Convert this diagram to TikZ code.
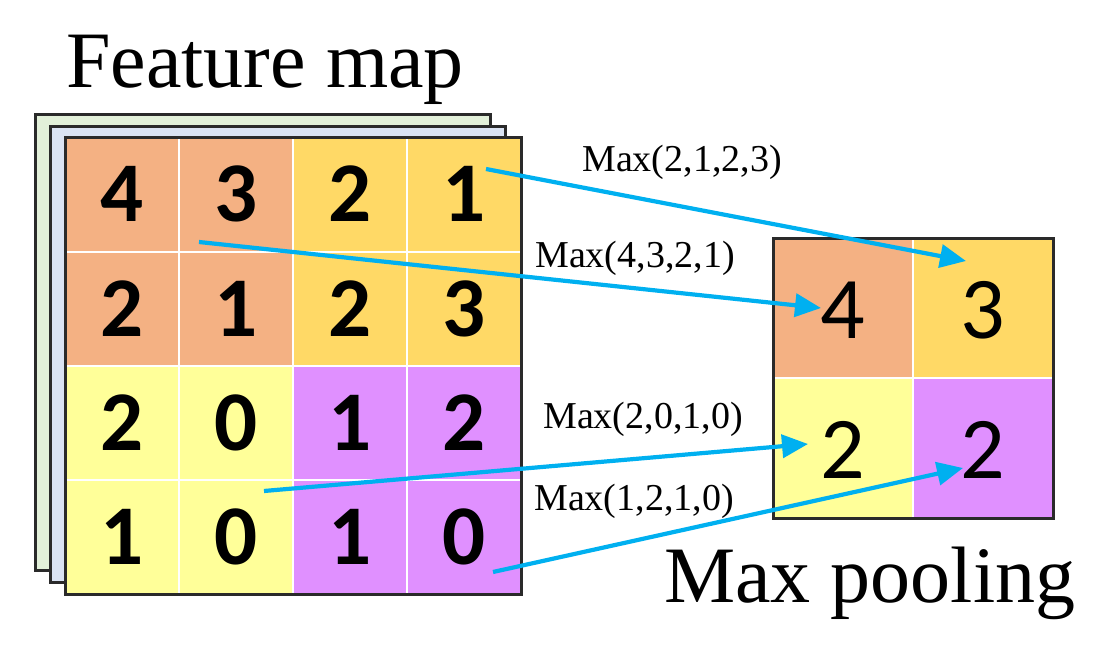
\documentclass[tikz,border=0pt]{standalone}
\usepackage{fontspec}
\setmainfont{Liberation Serif}
\newfontfamily\digitfont{Carlito}
\usetikzlibrary{arrows.meta}
\definecolor{corange}{HTML}{F4B183}
\definecolor{cgold}{HTML}{FFD966}
\definecolor{cyellow}{HTML}{FFFF99}
\definecolor{cpurple}{HTML}{E090FF}
\definecolor{cgreen}{HTML}{E2F0D9}
\definecolor{cblue}{HTML}{DAE3F3}
\definecolor{ccyan}{HTML}{00B0F0}
\definecolor{cborder}{HTML}{2A2A2A}
\tikzset{
  sheet/.style={draw=cborder, line width=3pt},
  cell/.style={rectangle, inner sep=0pt, outer sep=0pt, minimum size=114pt, draw=none},
  pcell/.style={rectangle, inner sep=0pt, outer sep=0pt, minimum size=140pt, draw=none},
  fmnum/.style={anchor=base, inner sep=0pt, font=\digitfont\bfseries\fontsize{85}{85}\selectfont},
  pnum/.style={anchor=base, inner sep=0pt, font=\digitfont\fontsize{88}{88}\selectfont},
  maxlabel/.style={anchor=base, inner sep=0pt, font=\fontsize{38}{38}\selectfont},
  title/.style={anchor=base west, inner sep=0pt, font=\fontsize{80}{80}\selectfont},
  conn/.style={draw=ccyan, line width=4.2pt, -{Triangle[length=26pt,width=23pt]}},
  gridline/.style={draw=white, line width=1.2pt}
}
\begin{document}
\begin{tikzpicture}[x=1pt,y=-1pt]
\useasboundingbox (0,0) rectangle (1112,650);
% back sheets
\filldraw[sheet, fill=cgreen] (35,115) rectangle (490,570);
\filldraw[sheet, fill=cblue] (50,127) rectangle (505,582);
% front feature map cells
\node[cell, fill=corange] (c11) at (122,195) {};
\node[cell, fill=corange] (c12) at (236,195) {};
\node[cell, fill=cgold] (c13) at (350,195) {};
\node[cell, fill=cgold] (c14) at (464,195) {};
\node[cell, fill=corange] (c21) at (122,309) {};
\node[cell, fill=corange] (c22) at (236,309) {};
\node[cell, fill=cgold] (c23) at (350,309) {};
\node[cell, fill=cgold] (c24) at (464,309) {};
\node[cell, fill=cyellow] (c31) at (122,423) {};
\node[cell, fill=cyellow] (c32) at (236,423) {};
\node[cell, fill=cpurple] (c33) at (350,423) {};
\node[cell, fill=cpurple] (c34) at (464,423) {};
\node[cell, fill=cyellow] (c41) at (122,537) {};
\node[cell, fill=cyellow] (c42) at (236,537) {};
\node[cell, fill=cpurple] (c43) at (350,537) {};
\node[cell, fill=cpurple] (c44) at (464,537) {};
\foreach \v in {179,293,407} {\draw[gridline] (\v,138) -- (\v,594);}
\foreach \v in {252,366,480} {\draw[gridline] (65,\v) -- (521,\v);}
\draw[sheet] (65,138) rectangle (521,594);
% feature map numbers
\node[fmnum] (n11) at (122,222) {4};
\node[fmnum] (n12) at (236,222) {3};
\node[fmnum] (n13) at (350,222) {2};
\node[fmnum] (n14) at (464,222) {1};
\node[fmnum] (n21) at (122,336) {2};
\node[fmnum] (n22) at (236,336) {1};
\node[fmnum] (n23) at (350,336) {2};
\node[fmnum] (n24) at (464,336) {3};
\node[fmnum] (n31) at (122,450) {2};
\node[fmnum] (n32) at (236,450) {0};
\node[fmnum] (n33) at (350,450) {1};
\node[fmnum] (n34) at (464,450) {2};
\node[fmnum] (n41) at (122,564) {1};
\node[fmnum] (n42) at (236,564) {0};
\node[fmnum] (n43) at (350,564) {1};
\node[fmnum] (n44) at (464,564) {0};
% pooled map
\node[pcell, fill=corange] (p11) at (843,308) {};
\node[pcell, fill=cgold] (p12) at (983,308) {};
\node[pcell, fill=cyellow] (p21) at (843,448) {};
\node[pcell, fill=cpurple] (p22) at (983,448) {};
\draw[gridline] (913,238) -- (913,518);
\draw[gridline] (773,378) -- (1053,378);
\draw[draw=cborder, line width=3pt] (773,238) rectangle (1053,518);
\node[pnum] (q11) at (843,338) {4};
\node[pnum] (q12) at (983,338) {3};
\node[pnum] (q21) at (843,478) {2};
\node[pnum] (q22) at (983,478) {2};
% titles
\node[title] (tfm) at (66,88) {Feature map};
\node[title] (tmp) at (664,602) {Max pooling};
% labels
\node[maxlabel] (l1) at (682,172) {Max(2,1,2,3)};
\node[maxlabel] (l2) at (635,267) {Max(4,3,2,1)};
\node[maxlabel] (l3) at (643,428) {Max(2,0,1,0)};
\node[maxlabel] (l4) at (634,510) {Max(1,2,1,0)};
% connector ends
\coordinate (s1) at (486,169);
\coordinate (e1) at (966,261);
\coordinate (s2) at (199,242);
\coordinate (e2) at (821,308);
\coordinate (s3) at (264,491);
\coordinate (e3) at (808,444);
\coordinate (s4) at (493,572);
\coordinate (e4) at (963,468);
\draw[conn] (s1) -- (e1);
\draw[conn] (s2) -- (e2);
\draw[conn] (s3) -- (e3);
\draw[conn] (s4) -- (e4);
\end{tikzpicture}
\end{document}
